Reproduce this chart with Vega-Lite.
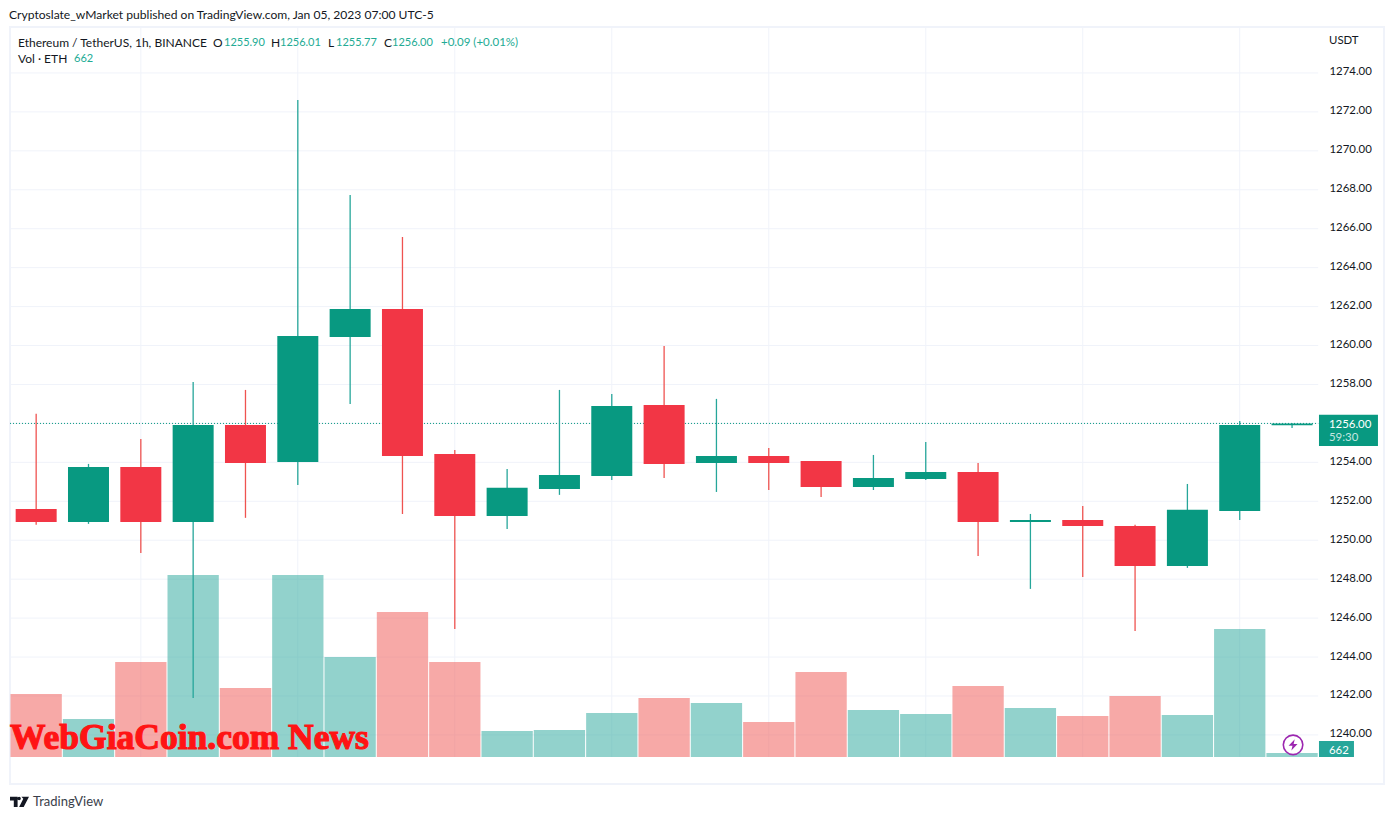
{
"$schema":"https://vega.github.io/schema/vega-lite/v6.json",
"autosize":"none","width":1374,"height":757,
"padding":{"left":10,"top":27,"right":9,"bottom":36},
"background":"white",
"config":{"view":{"stroke":"#f0f3fa","strokeWidth":2},"font":"Lato","text":{"font":"Lato"},"scale":{"continuousPadding":0}},
"title":{"text":"Cryptoslate_wMarket published on TradingView.com, Jan 05, 2023 07:00 UTC-5","anchor":"start","frame":"group","fontSize":12.1,"font":"Lato","fontWeight":"normal","color":"#131722","offset":5,"dx":-1},
"datasets":{
"candles":[
{"t":"2023-01-04T07:00:00Z","o":1251.61,"h":1256.49,"l":1250.79,"c":1250.94,"v":10430,"dir":"down"},
{"t":"2023-01-04T08:00:00Z","o":1250.94,"h":1253.92,"l":1250.84,"c":1253.76,"v":6290,"dir":"up"},
{"t":"2023-01-04T09:00:00Z","o":1253.76,"h":1255.20,"l":1249.35,"c":1250.94,"v":15720,"dir":"down"},
{"t":"2023-01-04T10:00:00Z","o":1250.94,"h":1258.13,"l":1241.90,"c":1255.92,"v":30120,"dir":"up"},
{"t":"2023-01-04T11:00:00Z","o":1255.92,"h":1257.72,"l":1251.15,"c":1253.97,"v":11420,"dir":"down"},
{"t":"2023-01-04T12:00:00Z","o":1254.02,"h":1272.61,"l":1252.84,"c":1260.49,"v":30120,"dir":"up"},
{"t":"2023-01-04T13:00:00Z","o":1260.44,"h":1267.73,"l":1257.00,"c":1261.88,"v":16550,"dir":"up"},
{"t":"2023-01-04T14:00:00Z","o":1261.88,"h":1265.58,"l":1251.35,"c":1254.33,"v":24000,"dir":"down"},
{"t":"2023-01-04T15:00:00Z","o":1254.43,"h":1254.64,"l":1245.44,"c":1251.25,"v":15720,"dir":"down"},
{"t":"2023-01-04T16:00:00Z","o":1251.25,"h":1253.66,"l":1250.58,"c":1252.69,"v":4300,"dir":"up"},
{"t":"2023-01-04T17:00:00Z","o":1252.63,"h":1257.72,"l":1252.33,"c":1253.35,"v":4470,"dir":"up"},
{"t":"2023-01-04T18:00:00Z","o":1253.30,"h":1257.51,"l":1253.10,"c":1256.90,"v":7280,"dir":"up"},
{"t":"2023-01-04T19:00:00Z","o":1256.95,"h":1259.98,"l":1253.20,"c":1253.92,"v":9770,"dir":"down"},
{"t":"2023-01-04T20:00:00Z","o":1253.97,"h":1257.26,"l":1252.48,"c":1254.33,"v":8940,"dir":"up"},
{"t":"2023-01-04T21:00:00Z","o":1254.33,"h":1254.74,"l":1252.58,"c":1253.97,"v":5790,"dir":"down"},
{"t":"2023-01-04T22:00:00Z","o":1254.07,"h":1254.07,"l":1252.22,"c":1252.74,"v":14070,"dir":"down"},
{"t":"2023-01-04T23:00:00Z","o":1252.74,"h":1254.38,"l":1252.58,"c":1253.20,"v":7780,"dir":"up"},
{"t":"2023-01-05T00:00:00Z","o":1253.15,"h":1255.05,"l":1253.10,"c":1253.51,"v":7120,"dir":"up"},
{"t":"2023-01-05T01:00:00Z","o":1253.51,"h":1253.97,"l":1249.19,"c":1250.94,"v":11750,"dir":"down"},
{"t":"2023-01-05T02:00:00Z","o":1250.94,"h":1251.35,"l":1247.50,"c":1251.04,"v":8110,"dir":"up"},
{"t":"2023-01-05T03:00:00Z","o":1251.04,"h":1251.76,"l":1248.11,"c":1250.73,"v":6790,"dir":"down"},
{"t":"2023-01-05T04:00:00Z","o":1250.73,"h":1250.79,"l":1245.34,"c":1248.68,"v":10100,"dir":"down"},
{"t":"2023-01-05T05:00:00Z","o":1248.68,"h":1252.89,"l":1248.58,"c":1251.56,"v":6950,"dir":"up"},
{"t":"2023-01-05T06:00:00Z","o":1251.50,"h":1256.13,"l":1251.04,"c":1255.92,"v":21180,"dir":"up"},
{"t":"2023-01-05T07:00:00Z","o":1255.90,"h":1256.01,"l":1255.77,"c":1256.00,"v":662,"dir":"up"}
]},
"resolve":{"scale":{"y":"independent"}},
"layer":[
{"layer":[
 {"data":{"values":[{"p":1240},{"p":1242},{"p":1244},{"p":1246},{"p":1248},{"p":1250},{"p":1252},{"p":1254},{"p":1256},{"p":1258},{"p":1260},{"p":1262},{"p":1264},{"p":1266},{"p":1268},{"p":1270},{"p":1272},{"p":1274}]},
  "mark":{"type":"rule","color":"#f0f3fa","strokeWidth":1},
  "encoding":{
   "y":{"field":"p","type":"quantitative","scale":{"domain":[1237.48,1276.36],"nice":false,"zero":false},"axis":{"orient":"right","offset":-66,"title":null,"grid":false,"ticks":false,"domain":false,"values":[1240,1242,1244,1246,1248,1250,1252,1254,1258,1260,1262,1264,1266,1268,1270,1272,1274],"format":".2f","labelFont":"Lato","labelFontSize":11.4,"labelColor":"#131722","labelPadding":11,"labelOffset":-1,"labelOverlap":false,"labelBound":false,"labelFlush":false}},
   "x":{"datum":1672813800000,"type":"temporal","scale":{"type":"utc","domain":[1672813800000,1672908325200],"nice":false},"axis":null},
   "x2":{"datum":1672903800000}
  }},
 {"data":{"values":[{"t":"2023-01-04T09:00:00Z"},{"t":"2023-01-04T12:00:00Z"},{"t":"2023-01-04T15:00:00Z"},{"t":"2023-01-04T18:00:00Z"},{"t":"2023-01-04T21:00:00Z"},{"t":"2023-01-05T00:00:00Z"},{"t":"2023-01-05T03:00:00Z"},{"t":"2023-01-05T06:00:00Z"}]},
  "mark":{"type":"rule","color":"#f0f3fa","strokeWidth":1},
  "encoding":{
   "x":{"field":"t","type":"temporal","scale":{"type":"utc","domain":[1672813800000,1672908325200],"nice":false},"axis":{"orient":"bottom","offset":-27,"title":null,"grid":false,"ticks":false,"domain":false,"values":[1672822800000,1672833600000,1672844400000,1672855200000,1672866000000,1672876800000,1672887600000,1672898400000],"labelExpr":"utchours(datum.value)==0?'5':utcFormat(datum.value,'%H:%M')","labelFont":"Lato","labelFontSize":11.6,"labelColor":"#131722","labelPadding":8,"labelOverlap":false,"labelAngle":0}},
   "y":{"datum":1276.36,"type":"quantitative","scale":{"domain":[1237.48,1276.36],"nice":false,"zero":false}},
   "y2":{"datum":1238.87}
  }}
]},
{"data":{"name":"candles"},
 "mark":{"type":"bar","width":51.3,"opacity":0.5,"clip":true},
 "encoding":{
  "x":{"field":"t","type":"temporal","scale":{"type":"utc","domain":[1672813800000,1672908325200],"nice":false},"axis":null},
  "y":{"field":"v","type":"quantitative","scale":{"domain":[0,120815],"range":[730,0],"nice":false},"axis":null},
  "color":{"field":"dir","type":"nominal","scale":{"domain":["up","down"],"range":["#26a69a","#ef5350"]},"legend":null}
 }},
{"layer":[
 {"data":{"values":[{"p":1256}]},
  "mark":{"type":"rule","color":"#089981","strokeWidth":1,"strokeDash":[1,2]},
  "encoding":{"y":{"field":"p","type":"quantitative","scale":{"domain":[1237.48,1276.36],"nice":false,"zero":false},"axis":null},
   "x":{"datum":1672813800000,"type":"temporal","scale":{"type":"utc","domain":[1672813800000,1672908325200],"nice":false},"axis":null},"x2":{"datum":1672903800000}}},
 {"data":{"name":"candles"},
  "mark":{"type":"rule","strokeWidth":1.3},
  "encoding":{"x":{"field":"t","type":"temporal","scale":{"type":"utc","domain":[1672813800000,1672908325200],"nice":false},"axis":null},
   "y":{"field":"l","type":"quantitative","scale":{"domain":[1237.48,1276.36],"nice":false,"zero":false},"axis":null},"y2":{"field":"h"},
   "color":{"field":"dir","type":"nominal","scale":{"domain":["up","down"],"range":["#089981","#f23645"]},"legend":null}}},
 {"data":{"name":"candles"},
  "mark":{"type":"bar","width":41},
  "encoding":{"x":{"field":"t","type":"temporal","scale":{"type":"utc","domain":[1672813800000,1672908325200],"nice":false},"axis":null},
   "y":{"field":"o","type":"quantitative","scale":{"domain":[1237.48,1276.36],"nice":false,"zero":false},"axis":null},"y2":{"field":"c"},
   "fill":{"field":"dir","type":"nominal","scale":{"domain":["up","down"],"range":["#089981","#f23645"]},"legend":null}}},
 {"data":{"values":[{"a":1672903852000,"b":1672907910000,"p":1256.44,"q":1254.84}]},
  "mark":{"type":"rect","fill":"#089981"},
  "encoding":{"x":{"field":"a","type":"temporal","scale":{"type":"utc","domain":[1672813800000,1672908325200],"nice":false},"axis":null},"x2":{"field":"b"},
   "y":{"field":"p","type":"quantitative","scale":{"domain":[1237.48,1276.36],"nice":false,"zero":false},"axis":null},"y2":{"field":"q"}}},
 {"data":{"values":[{"a":1672903852000,"b":1672906259000,"p":1239.69,"q":1238.87}]},
  "mark":{"type":"rect","fill":"#26a69a"},
  "encoding":{"x":{"field":"a","type":"temporal","scale":{"type":"utc","domain":[1672813800000,1672908325200],"nice":false},"axis":null},"x2":{"field":"b"},
   "y":{"field":"p","type":"quantitative","scale":{"domain":[1237.48,1276.36],"nice":false,"zero":false},"axis":null},"y2":{"field":"q"}}},
 {"data":{"values":[{"a":1672904542000,"p":1255.97,"label":"1256.00","col":"white"},{"a":1672904542000,"p":1255.31,"label":"59:30","col":"#c4e6e0"},{"a":1672904542000,"p":1239.23,"label":"662","col":"white"},{"a":1672904542000,"p":1275.69,"label":"USDT","col":"#131722"}]},
  "mark":{"type":"text","align":"left","baseline":"middle","fontSize":11.4,"font":"Lato","dy":1},
  "encoding":{"x":{"field":"a","type":"temporal","scale":{"type":"utc","domain":[1672813800000,1672908325200],"nice":false},"axis":null},
   "y":{"field":"p","type":"quantitative","scale":{"domain":[1237.48,1276.36],"nice":false,"zero":false},"axis":null},
   "text":{"field":"label"},"color":{"field":"col","type":"nominal","scale":null,"legend":null}}},
 {"data":{"values":[{"label":"x"}]},
  "encoding":{"x":{"datum":1672813800000,"type":"temporal","scale":{"type":"utc","domain":[1672813800000,1672908325200],"nice":false},"axis":null},
   "y":{"datum":1275.59,"type":"quantitative","scale":{"domain":[1237.48,1276.36],"nice":false,"zero":false},"axis":null}},
  "layer":[
   {"mark":{"type":"text","text":"Ethereum / TetherUS, 1h, BINANCE","dx":8,"dy":1,"align":"left","baseline":"middle","fontSize":12,"font":"Lato","color":"#131722"}},
   {"mark":{"type":"text","text":"O","dx":203,"dy":1,"align":"left","baseline":"middle","fontSize":12,"font":"Lato","color":"#131722"}},
   {"mark":{"type":"text","text":"1255.90","dx":214,"dy":1,"align":"left","baseline":"middle","fontSize":11,"font":"Lato","color":"#22ab94"}},
   {"mark":{"type":"text","text":"H","dx":261,"dy":1,"align":"left","baseline":"middle","fontSize":12,"font":"Lato","color":"#131722"}},
   {"mark":{"type":"text","text":"1256.01","dx":270,"dy":1,"align":"left","baseline":"middle","fontSize":11,"font":"Lato","color":"#22ab94"}},
   {"mark":{"type":"text","text":"L","dx":318,"dy":1,"align":"left","baseline":"middle","fontSize":12,"font":"Lato","color":"#131722"}},
   {"mark":{"type":"text","text":"1255.77","dx":326,"dy":1,"align":"left","baseline":"middle","fontSize":11,"font":"Lato","color":"#22ab94"}},
   {"mark":{"type":"text","text":"C","dx":374,"dy":1,"align":"left","baseline":"middle","fontSize":12,"font":"Lato","color":"#131722"}},
   {"mark":{"type":"text","text":"1256.00","dx":382,"dy":1,"align":"left","baseline":"middle","fontSize":11,"font":"Lato","color":"#22ab94"}},
   {"mark":{"type":"text","text":"+0.09 (+0.01%)","dx":431,"dy":1,"align":"left","baseline":"middle","fontSize":11.5,"font":"Lato","color":"#22ab94"}}
  ]},
 {"data":{"values":[{"label":"x"}]},
  "encoding":{"x":{"datum":1672813800000,"type":"temporal","scale":{"type":"utc","domain":[1672813800000,1672908325200],"nice":false},"axis":null},
   "y":{"datum":1274.77,"type":"quantitative","scale":{"domain":[1237.48,1276.36],"nice":false,"zero":false},"axis":null}},
  "layer":[
   {"mark":{"type":"text","text":"Vol · ETH","dx":8,"dy":1,"align":"left","baseline":"middle","fontSize":12,"font":"Lato","color":"#131722"}},
   {"mark":{"type":"text","text":"662","dx":64,"dy":1,"align":"left","baseline":"middle","fontSize":11,"font":"Lato","color":"#22ab94"}}
  ]},
 {"data":{"values":[{"label":"WebGiaCoin.com News"}]},
  "mark":{"type":"text","align":"left","baseline":"middle","fontSize":35.5,"fontWeight":"bold","font":"Liberation Serif","color":"#ff1414","stroke":"#ff1414","strokeWidth":1.2},
  "encoding":{"x":{"datum":1672813800000,"type":"temporal","scale":{"type":"utc","domain":[1672813800000,1672908325200],"nice":false},"axis":null},
   "y":{"datum":1239.85,"type":"quantitative","scale":{"domain":[1237.48,1276.36],"nice":false,"zero":false},"axis":null},"text":{"field":"label"}}},
 {"data":{"values":[{"label":"TradingView"}]},
  "encoding":{"x":{"datum":1672813800000,"type":"temporal","scale":{"type":"utc","domain":[1672813800000,1672908325200],"nice":false},"axis":null},
   "y":{"datum":1236.56,"type":"quantitative","scale":{"domain":[1237.48,1276.36],"nice":false,"zero":false},"axis":null}},
  "layer":[
   {"mark":{"type":"text","dx":23,"align":"left","baseline":"middle","fontSize":13,"font":"Lato","color":"#3a3e4a"},"encoding":{"text":{"field":"label"}}},
   {"mark":{"type":"point","filled":true,"size":1444,"xOffset":9.5,"color":"#131722","opacity":1,"shape":"M-0.5 -0.27H-0.1V0.27H-0.3V-0.07H-0.5Z M0.1 -0.27H0.5L0.22 0.27H-0.02L0.2 -0.17Z M-0.02 -0.27A0.09 0.09 0 1 1 -0.02 -0.09A0.09 0.09 0 1 1 -0.02 -0.27Z"}}
  ]},
 {"data":{"values":[{"t":"2023-01-05T07:00:00Z"}]},
  "encoding":{"x":{"field":"t","type":"temporal","scale":{"type":"utc","domain":[1672813800000,1672908325200],"nice":false},"axis":null},
   "y":{"datum":1239.49,"type":"quantitative","scale":{"domain":[1237.48,1276.36],"nice":false,"zero":false},"axis":null}},
  "layer":[
   {"mark":{"type":"point","shape":"circle","size":380,"xOffset":1,"fill":"white","fillOpacity":1,"stroke":"#9c27b0","strokeWidth":1.6,"opacity":1}},
   {"mark":{"type":"point","filled":true,"size":500,"xOffset":1,"color":"#9c27b0","opacity":1,"shape":"M0.15 -0.5L-0.4 0.08H-0.05L-0.15 0.5L0.4 -0.08H0.05Z"}}
  ]}
]}
]}
